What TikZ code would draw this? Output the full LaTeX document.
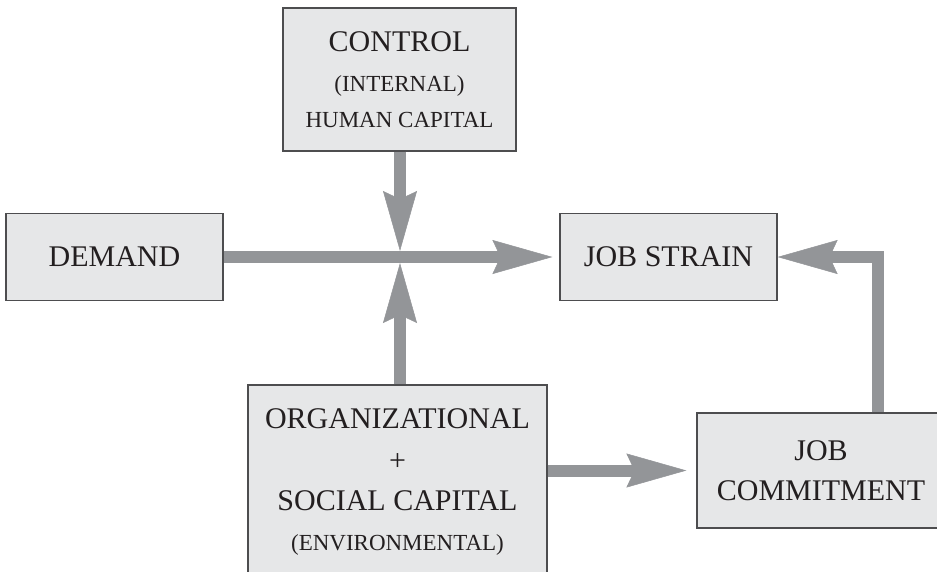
\documentclass[tikz,border=0pt]{standalone}
\usepackage{fontspec}
\setmainfont{Liberation Serif}
\usetikzlibrary{arrows.meta}
\definecolor{arrowgray}{HTML}{939598}
\definecolor{boxfill}{HTML}{E6E7E8}
\definecolor{boxline}{HTML}{4D4D4F}
\definecolor{ink}{HTML}{231F20}
\newcommand{\bigtxt}{\fontsize{30}{40}\selectfont}
\newcommand{\smalltxt}{\fontsize{23}{40}\selectfont}
\begin{document}
\begin{tikzpicture}[x=1pt,y=-1pt,
  box/.style={draw=boxline,line width=1.2pt,fill=boxfill,text=ink,align=center,inner sep=0pt,font=\bigtxt},
  flow/.style={draw=arrowgray,line width=12pt,-{Stealth[length=60pt,width=34pt,inset=8pt,line width=0.5pt,fill=arrowgray]}}]
\useasboundingbox (0,0) rectangle (937,571);
\clip (0,0) rectangle (937,571);

\node[box,minimum width=233pt,minimum height=143pt] (control) at (399.5,79.5)
  {CONTROL\\\smalltxt (INTERNAL)\\[-4pt]\smalltxt HUMAN CAPITAL};
\node[box,minimum width=217pt,minimum height=87pt] (demand) at (114.5,257) {DEMAND};
\node[box,minimum width=217pt,minimum height=87pt] (strain) at (668.5,257) {JOB STRAIN};
\node[box,minimum width=299pt,minimum height=195pt] (org) at (397.5,482.5)
  {ORGANIZATIONAL\\[2pt]+\\SOCIAL CAPITAL\\\smalltxt (ENVIRONMENTAL)};
\node[box,minimum width=248pt,minimum height=115pt] (commit) at (821,470.5)
  {JOB\\COMMITMENT};

\coordinate (hub) at (400,257);
\coordinate (elbow) at (878,254);

\draw[flow] (demand.east) -- ([xshift=-7pt]strain.west);
\draw[flow] (control.south -| hub) -- ([yshift=6pt]hub);
\draw[flow] (org.north -| hub) -- ([yshift=-6pt]hub);
\draw[flow] (org.east |- commit) -- ([xshift=-10pt]commit.west);
\draw[flow] (commit.north -| elbow) |- (strain.east);
\end{tikzpicture}
\end{document}
